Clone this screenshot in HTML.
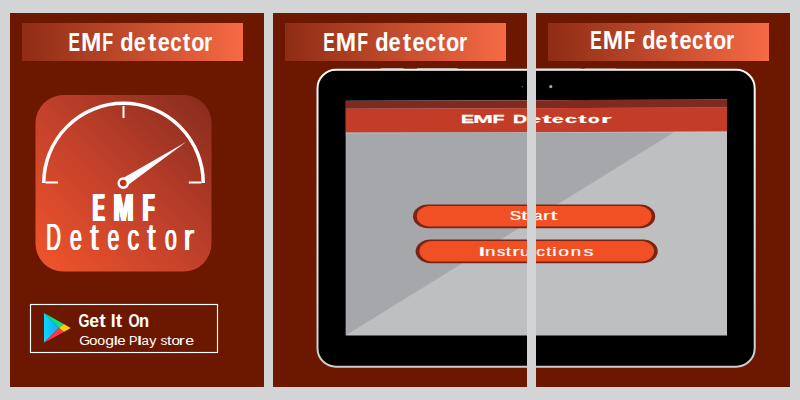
<!DOCTYPE html>
<html><head><meta charset="utf-8">
<style>
html,body{margin:0;padding:0;width:800px;height:400px;overflow:hidden;background:#d3d4d6;}
svg{display:block;position:absolute;left:0;top:0;}
text{font-family:"Liberation Sans",sans-serif;}
</style></head>
<body>
<svg width="800" height="400" viewBox="0 0 800 400">
<defs>
  <linearGradient id="tg" x1="0" y1="0" x2="1" y2="0">
    <stop offset="0" stop-color="#8e2c14"/>
    <stop offset="1" stop-color="#f66a45"/>
  </linearGradient>
  <linearGradient id="ig" x1="0" y1="1" x2="1" y2="0">
    <stop offset="0" stop-color="#f2552a"/>
    <stop offset="0.5" stop-color="#c0402a"/>
    <stop offset="1" stop-color="#862b1e"/>
  </linearGradient>
  <linearGradient id="pv" x1="0" y1="0" x2="1" y2="0">
    <stop offset="0" stop-color="#a52a16"/>
    <stop offset="1" stop-color="#d83c1a"/>
  </linearGradient>
  <linearGradient id="pb" x1="0" y1="0" x2="1" y2="0">
    <stop offset="0" stop-color="#0ad8fe"/>
    <stop offset="1" stop-color="#1aa2f8"/>
  </linearGradient>
  <linearGradient id="rim" x1="0" y1="0" x2="0" y2="1">
    <stop offset="0" stop-color="#fafafa"/>
    <stop offset="1" stop-color="#cccdd0"/>
  </linearGradient>
  <clipPath id="scr"><path d="M345.8 100.8 L727 99.5 L727 335.5 L345.8 335.6 Z"/></clipPath>
</defs>

<!-- panels -->
<rect x="10" y="13" width="254" height="374" fill="#6c1700"/>
<rect x="273" y="13" width="254" height="374" fill="#6c1700"/>
<rect x="536" y="13" width="254" height="374" fill="#6c1700"/>

<!-- title bars -->
<rect x="22" y="23" width="221" height="38" fill="url(#tg)"/>
<rect x="285" y="23" width="221" height="38" fill="url(#tg)"/>
<rect x="548" y="23" width="221" height="38" fill="url(#tg)"/>
<text transform="translate(68.44,50.80) scale(0.6599,1)" font-size="26.2" font-weight="bold" fill="#fff">E</text>
<text transform="translate(80.96,50.80) scale(0.9334,1)" font-size="26.2" font-weight="bold" fill="#fff">M</text>
<text transform="translate(102.31,50.80) scale(0.6771,1)" font-size="26.2" font-weight="bold" fill="#fff">F</text>
<text transform="translate(120.30,50.80) scale(0.8332,1)" font-size="26.2" font-weight="bold" fill="#fff">d</text>
<text transform="translate(133.65,50.80) scale(0.8299,1)" font-size="26.2" font-weight="bold" fill="#fff">e</text>
<text transform="translate(147.89,50.80) scale(0.9647,1)" font-size="26.2" font-weight="bold" fill="#fff">t</text>
<text transform="translate(157.65,50.80) scale(0.8299,1)" font-size="26.2" font-weight="bold" fill="#fff">e</text>
<text transform="translate(170.20,50.80) scale(0.7825,1)" font-size="26.2" font-weight="bold" fill="#fff">c</text>
<text transform="translate(182.72,50.80) scale(0.8658,1)" font-size="26.2" font-weight="bold" fill="#fff">t</text>
<text transform="translate(191.16,50.80) scale(0.8240,1)" font-size="26.2" font-weight="bold" fill="#fff">o</text>
<text transform="translate(204.11,50.80) scale(0.8052,1)" font-size="26.2" font-weight="bold" fill="#fff">r</text>
<text transform="translate(323.34,50.80) scale(0.6599,1)" font-size="26.2" font-weight="bold" fill="#fff">E</text>
<text transform="translate(335.86,50.80) scale(0.9334,1)" font-size="26.2" font-weight="bold" fill="#fff">M</text>
<text transform="translate(357.21,50.80) scale(0.6771,1)" font-size="26.2" font-weight="bold" fill="#fff">F</text>
<text transform="translate(375.20,50.80) scale(0.8332,1)" font-size="26.2" font-weight="bold" fill="#fff">d</text>
<text transform="translate(388.55,50.80) scale(0.8299,1)" font-size="26.2" font-weight="bold" fill="#fff">e</text>
<text transform="translate(402.79,50.80) scale(0.9647,1)" font-size="26.2" font-weight="bold" fill="#fff">t</text>
<text transform="translate(412.55,50.80) scale(0.8299,1)" font-size="26.2" font-weight="bold" fill="#fff">e</text>
<text transform="translate(425.10,50.80) scale(0.7825,1)" font-size="26.2" font-weight="bold" fill="#fff">c</text>
<text transform="translate(437.62,50.80) scale(0.8658,1)" font-size="26.2" font-weight="bold" fill="#fff">t</text>
<text transform="translate(446.06,50.80) scale(0.8240,1)" font-size="26.2" font-weight="bold" fill="#fff">o</text>
<text transform="translate(459.01,50.80) scale(0.8052,1)" font-size="26.2" font-weight="bold" fill="#fff">r</text>
<text transform="translate(590.34,49.40) scale(0.6599,1)" font-size="26.2" font-weight="bold" fill="#fff">E</text>
<text transform="translate(602.86,49.40) scale(0.9334,1)" font-size="26.2" font-weight="bold" fill="#fff">M</text>
<text transform="translate(624.21,49.40) scale(0.6771,1)" font-size="26.2" font-weight="bold" fill="#fff">F</text>
<text transform="translate(642.20,49.40) scale(0.8332,1)" font-size="26.2" font-weight="bold" fill="#fff">d</text>
<text transform="translate(655.55,49.40) scale(0.8299,1)" font-size="26.2" font-weight="bold" fill="#fff">e</text>
<text transform="translate(669.79,49.40) scale(0.9647,1)" font-size="26.2" font-weight="bold" fill="#fff">t</text>
<text transform="translate(679.55,49.40) scale(0.8299,1)" font-size="26.2" font-weight="bold" fill="#fff">e</text>
<text transform="translate(692.10,49.40) scale(0.7825,1)" font-size="26.2" font-weight="bold" fill="#fff">c</text>
<text transform="translate(704.62,49.40) scale(0.8658,1)" font-size="26.2" font-weight="bold" fill="#fff">t</text>
<text transform="translate(713.06,49.40) scale(0.8240,1)" font-size="26.2" font-weight="bold" fill="#fff">o</text>
<text transform="translate(726.01,49.40) scale(0.8052,1)" font-size="26.2" font-weight="bold" fill="#fff">r</text>

<!-- app icon -->
<rect x="35.5" y="95" width="176" height="176.6" rx="28" ry="28" fill="url(#ig)"/>
<path d="M43.75 183 A79.75 79.75 0 0 1 203.25 183" fill="none" stroke="#fff" stroke-width="3.5"/>
<rect x="122.5" y="106" width="2" height="12" fill="#fff"/>
<rect x="45.5" y="181.5" width="12.5" height="2" fill="#fff"/>
<rect x="188.8" y="181.5" width="12.5" height="2" fill="#fff"/>
<path d="M186.4 141.7 L126 186.5 L120.5 179.5 Z" fill="#fff"/>
<circle cx="123.3" cy="183.1" r="4.6" fill="url(#pv)" stroke="#fff" stroke-width="2.6"/>
<text transform="translate(91.83,220.70) scale(0.4549,1)" font-size="38.4" font-weight="bold" fill="#fff">E</text>
<text transform="translate(92.38,220.70) scale(0.4549,1)" font-size="38.4" font-weight="bold" fill="#fff">E</text>
<text transform="translate(92.93,220.70) scale(0.4549,1)" font-size="38.4" font-weight="bold" fill="#fff">E</text>
<text transform="translate(93.48,220.70) scale(0.4549,1)" font-size="38.4" font-weight="bold" fill="#fff">E</text>
<text transform="translate(94.03,220.70) scale(0.4549,1)" font-size="38.4" font-weight="bold" fill="#fff">E</text>
<text transform="translate(112.39,220.70) scale(0.6257,1)" font-size="38.4" font-weight="bold" fill="#fff">M</text>
<text transform="translate(112.94,220.70) scale(0.6257,1)" font-size="38.4" font-weight="bold" fill="#fff">M</text>
<text transform="translate(113.49,220.70) scale(0.6257,1)" font-size="38.4" font-weight="bold" fill="#fff">M</text>
<text transform="translate(114.04,220.70) scale(0.6257,1)" font-size="38.4" font-weight="bold" fill="#fff">M</text>
<text transform="translate(114.59,220.70) scale(0.6257,1)" font-size="38.4" font-weight="bold" fill="#fff">M</text>
<text transform="translate(141.75,220.70) scale(0.4876,1)" font-size="38.4" font-weight="bold" fill="#fff">F</text>
<text transform="translate(142.30,220.70) scale(0.4876,1)" font-size="38.4" font-weight="bold" fill="#fff">F</text>
<text transform="translate(142.85,220.70) scale(0.4876,1)" font-size="38.4" font-weight="bold" fill="#fff">F</text>
<text transform="translate(143.40,220.70) scale(0.4876,1)" font-size="38.4" font-weight="bold" fill="#fff">F</text>
<text transform="translate(143.95,220.70) scale(0.4876,1)" font-size="38.4" font-weight="bold" fill="#fff">F</text>
<text transform="translate(45.84,250.00) scale(0.5467,1)" font-size="37.06" font-weight="normal" fill="#fff">D</text>
<text transform="translate(46.34,250.00) scale(0.5467,1)" font-size="37.06" font-weight="normal" fill="#fff">D</text>
<text transform="translate(46.84,250.00) scale(0.5467,1)" font-size="37.06" font-weight="normal" fill="#fff">D</text>
<text transform="translate(69.59,250.00) scale(0.5750,1)" font-size="37.06" font-weight="normal" fill="#fff">e</text>
<text transform="translate(70.09,250.00) scale(0.5750,1)" font-size="37.06" font-weight="normal" fill="#fff">e</text>
<text transform="translate(70.59,250.00) scale(0.5750,1)" font-size="37.06" font-weight="normal" fill="#fff">e</text>
<text transform="translate(89.53,250.00) scale(0.8453,1)" font-size="37.06" font-weight="normal" fill="#fff">t</text>
<text transform="translate(90.03,250.00) scale(0.8453,1)" font-size="37.06" font-weight="normal" fill="#fff">t</text>
<text transform="translate(90.53,250.00) scale(0.8453,1)" font-size="37.06" font-weight="normal" fill="#fff">t</text>
<text transform="translate(107.09,250.00) scale(0.5750,1)" font-size="37.06" font-weight="normal" fill="#fff">e</text>
<text transform="translate(107.59,250.00) scale(0.5750,1)" font-size="37.06" font-weight="normal" fill="#fff">e</text>
<text transform="translate(108.09,250.00) scale(0.5750,1)" font-size="37.06" font-weight="normal" fill="#fff">e</text>
<text transform="translate(127.01,250.00) scale(0.6258,1)" font-size="37.06" font-weight="normal" fill="#fff">c</text>
<text transform="translate(127.51,250.00) scale(0.6258,1)" font-size="37.06" font-weight="normal" fill="#fff">c</text>
<text transform="translate(128.01,250.00) scale(0.6258,1)" font-size="37.06" font-weight="normal" fill="#fff">c</text>
<text transform="translate(146.53,250.00) scale(0.8453,1)" font-size="37.06" font-weight="normal" fill="#fff">t</text>
<text transform="translate(147.03,250.00) scale(0.8453,1)" font-size="37.06" font-weight="normal" fill="#fff">t</text>
<text transform="translate(147.53,250.00) scale(0.8453,1)" font-size="37.06" font-weight="normal" fill="#fff">t</text>
<text transform="translate(164.61,250.00) scale(0.5715,1)" font-size="37.06" font-weight="normal" fill="#fff">o</text>
<text transform="translate(165.11,250.00) scale(0.5715,1)" font-size="37.06" font-weight="normal" fill="#fff">o</text>
<text transform="translate(165.61,250.00) scale(0.5715,1)" font-size="37.06" font-weight="normal" fill="#fff">o</text>
<text transform="translate(182.88,250.00) scale(0.8635,1)" font-size="37.06" font-weight="normal" fill="#fff">r</text>
<text transform="translate(183.38,250.00) scale(0.8635,1)" font-size="37.06" font-weight="normal" fill="#fff">r</text>
<text transform="translate(183.88,250.00) scale(0.8635,1)" font-size="37.06" font-weight="normal" fill="#fff">r</text>

<!-- google play badge -->
<rect x="30.5" y="304.5" width="187" height="48" fill="none" stroke="#fff" stroke-width="1.15"/>
<g>
  <path d="M44 313 L59 328 L44 342.7 Z" fill="url(#pb)"/>
  <path d="M44 313 L63.8 324 L59 328 Z" fill="#0fe07c"/>
  <path d="M63.8 324 L70.7 328 L63.8 332 L59 328 Z" fill="#ffc80a"/>
  <path d="M44 342.7 L59 328 L63.8 332 Z" fill="#f73a4c"/>
</g>
<text transform="translate(78.42,326.60) scale(0.7865,1)" font-size="17.9" font-weight="bold" fill="#fff">G</text>
<text transform="translate(89.31,326.60) scale(0.9833,1)" font-size="17.9" font-weight="bold" fill="#fff">e</text>
<text transform="translate(99.26,326.60) scale(1.0862,1)" font-size="17.9" font-weight="bold" fill="#fff">t</text>
<text transform="translate(110.84,326.60) scale(0.9696,1)" font-size="17.9" font-weight="bold" fill="#fff">I</text>
<text transform="translate(115.76,326.60) scale(1.0862,1)" font-size="17.9" font-weight="bold" fill="#fff">t</text>
<text transform="translate(128.41,326.60) scale(0.8040,1)" font-size="17.9" font-weight="bold" fill="#fff">O</text>
<text transform="translate(138.91,326.60) scale(0.9255,1)" font-size="17.9" font-weight="bold" fill="#fff">n</text>
<text transform="translate(79.21,344.60) scale(1.0212,1)" font-size="13.5" font-weight="normal" fill="#fff">G</text>
<text transform="translate(88.96,344.60) scale(1.1295,1)" font-size="13.5" font-weight="normal" fill="#fff">o</text>
<text transform="translate(97.30,344.60) scale(1.0511,1)" font-size="13.5" font-weight="normal" fill="#fff">o</text>
<text transform="translate(105.14,344.60) scale(1.1695,1)" font-size="13.5" font-weight="normal" fill="#fff">g</text>
<text transform="translate(113.42,344.60) scale(1.5170,1)" font-size="13.5" font-weight="normal" fill="#fff">l</text>
<text transform="translate(117.16,344.60) scale(1.1208,1)" font-size="13.5" font-weight="normal" fill="#fff">e</text>
<text transform="translate(129.05,344.60) scale(0.9464,1)" font-size="13.5" font-weight="normal" fill="#fff">P</text>
<text transform="translate(136.71,344.60) scale(1.8542,1)" font-size="13.5" font-weight="normal" fill="#fff">l</text>
<text transform="translate(141.54,344.60) scale(0.9806,1)" font-size="13.5" font-weight="normal" fill="#fff">a</text>
<text transform="translate(149.27,344.60) scale(1.0612,1)" font-size="13.5" font-weight="normal" fill="#fff">y</text>
<text transform="translate(160.52,344.60) scale(1.0193,1)" font-size="13.5" font-weight="normal" fill="#fff">s</text>
<text transform="translate(167.06,344.60) scale(1.1893,1)" font-size="13.5" font-weight="normal" fill="#fff">t</text>
<text transform="translate(171.46,344.60) scale(1.1295,1)" font-size="13.5" font-weight="normal" fill="#fff">o</text>
<text transform="translate(178.80,344.60) scale(1.3333,1)" font-size="13.5" font-weight="normal" fill="#fff">r</text>
<text transform="translate(185.32,344.60) scale(1.1840,1)" font-size="13.5" font-weight="normal" fill="#fff">e</text>

<!-- tablet -->
<rect x="317.5" y="69.85" width="437.2" height="296.85" rx="18.5" ry="18.5" fill="#000" stroke="url(#rim)" stroke-width="2"/>
<rect x="380.6" y="68" width="23.2" height="1.8" rx="0.6" fill="#d8d8dc" opacity="0.7"/>
<rect x="416.9" y="68" width="40.6" height="1.8" rx="0.6" fill="#d8d8dc" opacity="0.7"/>
<rect x="536" y="68.2" width="45" height="1.6" rx="0.6" fill="#cfd0d3" opacity="0.55"/>
<rect x="584.8" y="68.2" width="31.2" height="1.6" rx="0.6" fill="#cfd0d3" opacity="0.55"/>
<g clip-path="url(#scr)">
  <rect x="345" y="99" width="383" height="237" fill="#bebfc1"/>
  <path d="M345 131 L676 131 L345.5 335.6 L345 335.6 Z" fill="#a6a7ab"/>
  <path d="M345 100.8 L728 99.5 L728 107.4 L345 108.7 Z" fill="#7e2a1e"/>
  <path d="M345 108.7 L728 107.4 L728 131.6 L345 132.6 Z" fill="#c23c27"/>
  <path d="M345 132.6 L728 131.6 L728 132.4 L345 133.4 Z" fill="#c8cbce" opacity="0.6"/>
  <text transform="translate(460.94,123.00) scale(1.6902,1)" font-size="11.6" font-weight="bold" fill="#fff" stroke="#fff" stroke-width="0.296" stroke-linejoin="round">E</text>
<text transform="translate(473.17,123.00) scale(2.0343,1)" font-size="11.6" font-weight="bold" fill="#fff" stroke="#fff" stroke-width="0.246" stroke-linejoin="round">M</text>
<text transform="translate(492.43,123.00) scale(1.6992,1)" font-size="11.6" font-weight="bold" fill="#fff" stroke="#fff" stroke-width="0.294" stroke-linejoin="round">F</text>
<text transform="translate(512.94,123.00) scale(1.6868,1)" font-size="11.6" font-weight="bold" fill="#fff" stroke="#fff" stroke-width="0.296" stroke-linejoin="round">D</text>
<text transform="translate(527.28,123.00) scale(2.1422,1)" font-size="11.6" font-weight="bold" fill="#fff" stroke="#fff" stroke-width="0.233" stroke-linejoin="round">e</text>
<text transform="translate(542.31,123.00) scale(2.3745,1)" font-size="11.6" font-weight="bold" fill="#fff" stroke="#fff" stroke-width="0.211" stroke-linejoin="round">t</text>
<text transform="translate(552.03,123.00) scale(1.8030,1)" font-size="11.6" font-weight="bold" fill="#fff" stroke="#fff" stroke-width="0.277" stroke-linejoin="round">e</text>
<text transform="translate(564.91,123.00) scale(1.8556,1)" font-size="11.6" font-weight="bold" fill="#fff" stroke="#fff" stroke-width="0.269" stroke-linejoin="round">c</text>
<text transform="translate(578.15,123.00) scale(2.1231,1)" font-size="11.6" font-weight="bold" fill="#fff" stroke="#fff" stroke-width="0.236" stroke-linejoin="round">t</text>
<text transform="translate(588.11,123.00) scale(1.6344,1)" font-size="11.6" font-weight="bold" fill="#fff" stroke="#fff" stroke-width="0.306" stroke-linejoin="round">o</text>
<text transform="translate(600.97,123.00) scale(2.3223,1)" font-size="11.6" font-weight="bold" fill="#fff" stroke="#fff" stroke-width="0.215" stroke-linejoin="round">r</text>
  <!-- buttons -->
  <rect x="413" y="204.5" width="242.2" height="23.8" rx="15" ry="11.9" fill="#7a2414"/>
  <rect x="416.8" y="206" width="234.8" height="20.6" rx="13" ry="10.3" fill="#f05023"/>
  <rect x="415.6" y="239.4" width="242.2" height="23.8" rx="15" ry="11.9" fill="#7a2414"/>
  <rect x="419.4" y="240.9" width="234.6" height="20.5" rx="13" ry="10.3" fill="#f05023"/>
  <text transform="translate(509.68,219.90) scale(1.2995,1)" font-size="13.1" font-weight="normal" fill="#fff" stroke="#fff" stroke-width="0.231" stroke-linejoin="round">S</text>
<text transform="translate(520.85,219.90) scale(2.0327,1)" font-size="13.1" font-weight="normal" fill="#fff" stroke="#fff" stroke-width="0.148" stroke-linejoin="round">t</text>
<text transform="translate(534.01,219.90) scale(1.1443,1)" font-size="13.1" font-weight="normal" fill="#fff" stroke="#fff" stroke-width="0.262" stroke-linejoin="round">a</text>
<text transform="translate(542.64,219.90) scale(1.7405,1)" font-size="13.1" font-weight="normal" fill="#fff" stroke="#fff" stroke-width="0.172" stroke-linejoin="round">r</text>
<text transform="translate(550.15,219.90) scale(2.0327,1)" font-size="13.1" font-weight="normal" fill="#fff" stroke="#fff" stroke-width="0.148" stroke-linejoin="round">t</text>
<text transform="translate(477.18,255.90) scale(2.6592,1)" font-size="12.5" font-weight="normal" fill="#fff" stroke="#fff" stroke-width="0.113" stroke-linejoin="round">I</text>
<text transform="translate(485.00,255.90) scale(1.5066,1)" font-size="12.5" font-weight="normal" fill="#fff" stroke="#fff" stroke-width="0.199" stroke-linejoin="round">n</text>
<text transform="translate(497.09,255.90) scale(1.3210,1)" font-size="12.5" font-weight="normal" fill="#fff" stroke="#fff" stroke-width="0.227" stroke-linejoin="round">s</text>
<text transform="translate(505.85,255.90) scale(1.5663,1)" font-size="12.5" font-weight="normal" fill="#fff" stroke="#fff" stroke-width="0.192" stroke-linejoin="round">t</text>
<text transform="translate(512.14,255.90) scale(1.8240,1)" font-size="12.5" font-weight="normal" fill="#fff" stroke="#fff" stroke-width="0.164" stroke-linejoin="round">r</text>
<text transform="translate(519.97,255.90) scale(1.4501,1)" font-size="12.5" font-weight="normal" fill="#fff" stroke="#fff" stroke-width="0.207" stroke-linejoin="round">u</text>
<text transform="translate(536.31,255.90) scale(1.4009,1)" font-size="12.5" font-weight="normal" fill="#fff" stroke="#fff" stroke-width="0.214" stroke-linejoin="round">c</text>
<text transform="translate(546.13,255.90) scale(1.4254,1)" font-size="12.5" font-weight="normal" fill="#fff" stroke="#fff" stroke-width="0.210" stroke-linejoin="round">t</text>
<text transform="translate(552.10,255.90) scale(1.7294,1)" font-size="12.5" font-weight="normal" fill="#fff" stroke="#fff" stroke-width="0.173" stroke-linejoin="round">i</text>
<text transform="translate(558.34,255.90) scale(1.5418,1)" font-size="12.5" font-weight="normal" fill="#fff" stroke="#fff" stroke-width="0.195" stroke-linejoin="round">o</text>
<text transform="translate(570.72,255.90) scale(1.4877,1)" font-size="12.5" font-weight="normal" fill="#fff" stroke="#fff" stroke-width="0.202" stroke-linejoin="round">n</text>
<text transform="translate(583.39,255.90) scale(1.5962,1)" font-size="12.5" font-weight="normal" fill="#fff" stroke="#fff" stroke-width="0.188" stroke-linejoin="round">s</text>
</g>
<circle cx="522.4" cy="86.6" r="0.9" fill="#555"/>
<circle cx="550.8" cy="86.6" r="1.6" fill="#aaa"/>

<!-- gap between middle & right panels overlays tablet -->
<rect x="527" y="0" width="9" height="400" fill="#d3d4d6"/>
</svg>
</body></html>
